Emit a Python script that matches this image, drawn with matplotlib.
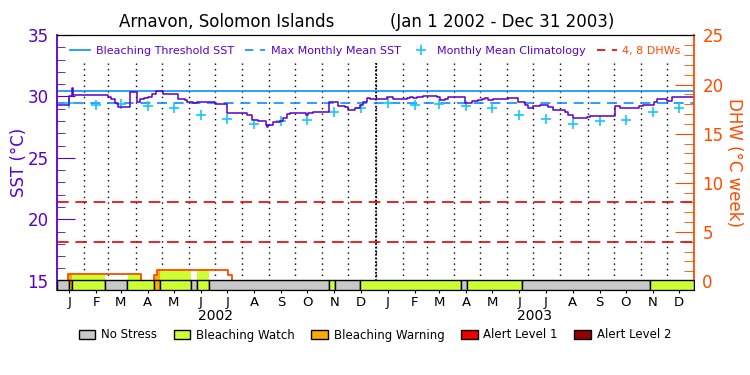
import matplotlib
matplotlib.use("Agg")
import matplotlib.pyplot as plt
import numpy as np
import pandas as pd
from matplotlib.lines import Line2D
from matplotlib.patches import Patch
from matplotlib.ticker import MultipleLocator

# days since Jan 1 2002
sst_day = [0, 11, 13.8, 16.8, 17.9, 55, 58, 62, 66, 70.3, 80.6, 83.6, 90.5, 92, 95, 100,
           104.7, 108.5, 113.4, 118.8, 121, 135.2, 139, 146.7, 148.6, 156.2, 160, 179.2,
           181, 192.5, 194.4, 211.6, 217.4, 223.1, 230, 236.5, 239.5, 241, 242.2, 247.9,
           255.6, 259.4, 263.2, 267, 284.2, 285.3, 288, 293.7, 309, 312, 318.6, 322.4,
           330, 333.9, 337.7, 341.5, 347.2, 351, 354.9, 358.7, 377.8, 385.4, 400.7,
           404.5, 408.4, 412.2, 419.8, 431.3, 435.1, 438.9, 444.7, 448.5, 461.9, 467.6,
           471.4, 475.3, 482.9, 486.7, 490.5, 494.4, 500.1, 515.4, 517.3, 528.8, 536.4,
           540.2, 546, 553.6, 563.2, 568.9, 578.4, 582.3, 586.1, 591.8, 599.5, 607.1,
           610.9, 635.8, 639.6, 645.3, 662.5, 666.4, 672.1, 679.7, 683.6, 687.4, 696.9,
           699.6, 704.6, 730]
sst_val = [29.29, 29.29, 30.06, 30.65, 30.11, 30.11, 29.95, 29.75, 29.5, 29.1, 29.1, 30.33,
           30.33, 29.57, 29.78, 29.85, 29.97, 30.16, 30.44, 30.44, 30.16, 30.16, 29.78,
           29.7, 29.57, 29.43, 29.51, 29.51, 29.35, 29.35, 28.61, 28.61, 28.48, 28.07,
           27.99, 27.99, 27.66, 27.47, 27.66, 27.94, 28.0, 28.21, 28.53, 28.67, 28.67,
           28.48, 28.67, 28.75, 28.75, 29.51, 29.51, 29.24, 29.16, 28.89, 28.89, 29.02,
           29.29, 29.51, 29.84, 29.78, 29.97, 29.78, 29.84, 29.92, 29.84, 29.97, 30.06,
           30.06, 29.92, 29.7, 29.78, 29.97, 29.97, 29.43, 29.43, 29.62, 29.7, 29.78,
           29.89, 29.7, 29.78, 29.78, 29.89, 29.57, 29.29, 29.08, 29.24, 29.29, 29.1,
           28.89, 28.89, 28.75, 28.48, 28.21, 28.21, 28.34, 28.42, 28.42, 29.24, 29.08,
           29.08, 29.24, 29.29, 29.29, 29.57, 29.78, 29.78, 29.62, 29.92, 29.92]

clim = [29.43, 29.3, 29.42, 29.22, 29.06, 28.5, 28.18, 27.79, 28.0, 28.04, 28.75, 29.06]
mmm = 29.45
threshold = mmm + 1.0

dhw_day = [0, 12.6, 96.6, 111.5, 115, 196.3, 200.2, 730]
dhw_val = [0, 0.68, 0, 0.61, 1.09, 0.61, 0, 0]
dhw_lines = [4, 8]

stress_start = [0, 13.75, 17.5, 55, 80.6, 111.5, 118.4, 153.2, 160, 174.5, 312, 319,
                347.6, 462.6, 469.5, 532.5, 680]
stress_level = [0, 2, 1, 0, 1, 2, 1, 0, 1, 0, 1, 0, 1, 0, 1, 0, 1]
n_days = 730

level_names = ['No Stress', 'Bleaching Watch', 'Bleaching Warning', 'Alert Level 1', 'Alert Level 2']
level_colors = ['#C8C8C8', '#CCFF33', '#FFAA00', '#F00000', '#960000']
month_letters = ['J', 'F', 'M', 'A', 'M', 'J', 'J', 'A', 'S', 'O', 'N', 'D']
years = ['2002', '2003']

purple = '#5A00CC'
orange = '#FF4A00'
blue = '#0A8CFF'
cyan = '#14C8FF'

months = pd.date_range('2002-01-01', '2004-01-01', freq='MS')
month_pos = np.array((months - months[0]).days, dtype=float)
mid_pos = month_pos[:-1] + 14

fig = plt.figure(figsize=(7.5, 3.75), dpi=100)
ax = fig.add_axes([57/750, 85/375, 637/750, 255/375])
ax2 = ax.twinx()
ymin = 14.24
dmin = -0.92
ax.set_xlim(0, n_days)
ax.set_ylim(ymin, 35)
ax2.set_ylim(dmin, 25.05)

# month grid
ax.vlines(month_pos[1:-1], 15, 32.7, colors='black', linestyles=(0, (1, 3)), lw=1)
ax.vlines([month_pos[12]], 15, 32.7, colors='black', linestyles=(0, (1, 1)), lw=1.3)

ax.axhline(threshold, color=blue, lw=1.2)
ax.axhline(mmm, color=blue, lw=1.2, dashes=(6, 4))
ax.plot(mid_pos, clim * 2, '+', color=cyan, ms=7.5, mew=1.2, ls='none')
ax.plot(sst_day, sst_val, drawstyle='steps-post', color=purple, lw=1.1)

for v in dhw_lines:
    ax2.axhline(v, color='#E60000', lw=1.2, dashes=(7, 4))

# DHW fill coloured by stress level, then the stress bar on top
stress_end = stress_start[1:] + [n_days]
dd = np.array(dhw_day)
dv = np.array(dhw_val)
for s, e, lev in zip(stress_start, stress_end, stress_level):
    if lev > 0:
        xs = np.linspace(s, e, 200)
        ys = dv[np.searchsorted(dd, xs, side='right') - 1]
        ax2.fill_between(xs, 0, ys, color=level_colors[lev], lw=0)
ax2.step(dhw_day, dhw_val, where='post', color=orange, lw=1.3, zorder=3)
bar_top = 0.1
for s, e, lev in zip(stress_start, stress_end, stress_level):
    ax2.broken_barh([(s, e - s)], (dmin, bar_top - dmin), facecolors=level_colors[lev],
                    edgecolor='black', lw=1, zorder=5)

# axes styling
ax.set_xticks(mid_pos)
ax.set_xticklabels(month_letters * 2, fontsize=9.5)
ax.tick_params(axis='x', direction='out', length=2, pad=2)
ax.yaxis.set_major_locator(MultipleLocator(5))
ax.yaxis.set_minor_locator(MultipleLocator(1))
ax.tick_params(axis='y', which='major', direction='in', length=13, color=purple,
               labelcolor=purple, labelsize=12, pad=6)
ax.tick_params(axis='y', which='minor', direction='in', length=6, color=purple)
ax2.yaxis.set_major_locator(MultipleLocator(5))
ax2.yaxis.set_minor_locator(MultipleLocator(1))
ax2.tick_params(axis='y', which='major', direction='in', length=14, color=orange,
                labelcolor=orange, labelsize=12, pad=6)
ax2.tick_params(axis='y', which='minor', direction='in', length=7, color=orange)
ax2.set_ylim(dmin, 25.05)
ax.spines['left'].set_color(purple)
ax.spines['left'].set_linewidth(1.3)
ax2.spines['right'].set_color(orange)
ax2.spines['right'].set_linewidth(1.3)
ax2.spines['left'].set_visible(False)
ax.spines['right'].set_visible(False)

ax.set_ylabel('SST (°C)', color=purple, fontsize=12, labelpad=0)
ax2.set_ylabel('DHW (°C week)', color=orange, fontsize=12, rotation=270, labelpad=14)

for i, y in enumerate(years):
    ax.text(month_pos[12 * i] + 182, -0.1, y, transform=ax.get_xaxis_transform(),
            ha='center', va='center', fontsize=10)

fig.text(227/750, 1 - 22/375, 'Arnavon, Solomon Islands', ha='center', va='center', fontsize=12)
fig.text(502/750, 1 - 22/375, '(Jan 1 2002 - Dec 31 2003)', ha='center', va='center', fontsize=12)

top_handles = [Line2D([], [], color=blue, lw=1.2),
               Line2D([], [], color=blue, lw=1.2, dashes=(5, 4)),
               Line2D([], [], color=cyan, marker='+', ls='none', ms=7, mew=1.2),
               Line2D([], [], color='#E60000', lw=1.2, dashes=(5, 4))]
top_labels = ['Bleaching Threshold SST', 'Max Monthly Mean SST', 'Monthly Mean Climatology', '4, 8 DHWs']
ax.legend(top_handles, top_labels, loc='center', bbox_to_anchor=(0.5, 1 - 16/255), ncol=4,
          frameon=False, fontsize=8, handlelength=1.8, columnspacing=1.0, handletextpad=0.5,
          borderpad=0, labelcolor=[purple, purple, purple, orange])

bottom_handles = [Patch(facecolor=c, edgecolor='black', lw=1) for c in level_colors]
fig.legend(bottom_handles, level_names, loc='center', bbox_to_anchor=(0.5, 1 - 335/375), ncol=5,
           frameon=False, fontsize=8.5, handlelength=1.4, handleheight=0.9, columnspacing=1.4,
           handletextpad=0.5)

fig.savefig('out.png', dpi=100)
